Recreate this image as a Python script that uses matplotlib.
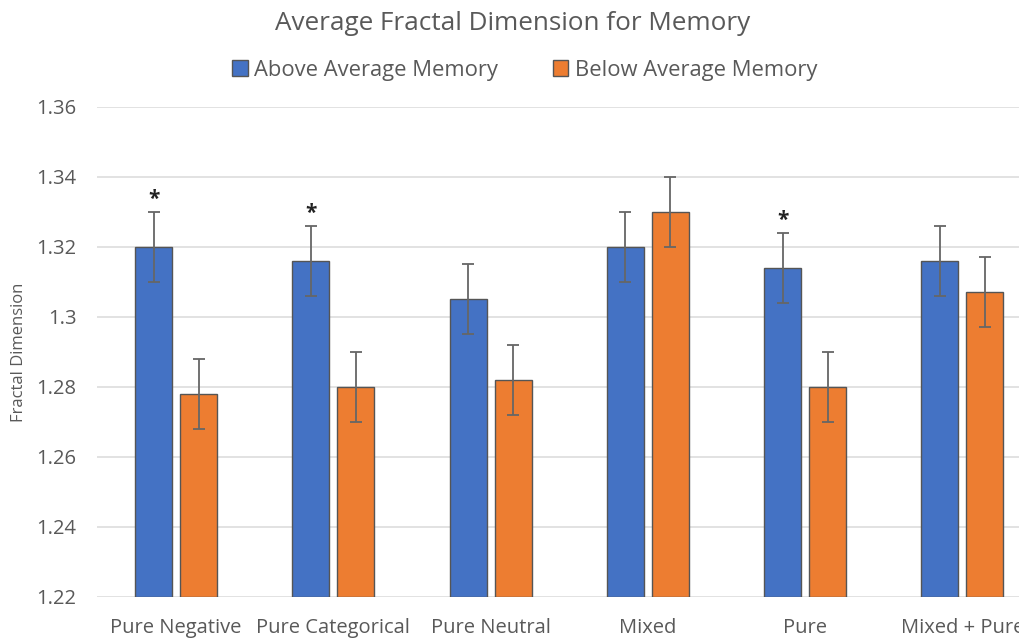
import matplotlib.pyplot as plt
import numpy as np
from matplotlib.patches import Patch

plt.rcParams['font.family'] = ['Open Sans', 'DejaVu Sans']

categories = ["Pure Negative", "Pure Categorical", "Pure Neutral", "Mixed", "Pure", "Mixed + Pure"]
above = [1.320, 1.316, 1.305, 1.320, 1.314, 1.316]
below = [1.278, 1.280, 1.282, 1.330, 1.280, 1.307]
above_err = [0.010, 0.010, 0.010, 0.010, 0.010, 0.010]
below_err = [0.010, 0.010, 0.010, 0.010, 0.010, 0.010]
significant = [True, True, False, False, True, False]
yticks = [1.22, 1.24, 1.26, 1.28, 1.30, 1.32, 1.34, 1.36]
ytick_labels = ["1.22", "1.24", "1.26", "1.28", "1.3", "1.32", "1.34", "1.36"]

BLUE = "#4472C4"
ORANGE = "#ED7D31"
TEXT = "#595959"

fig = plt.figure(figsize=(10.19, 6.38), dpi=100)
ax = fig.add_axes([0.0956, 0.0643, 0.926, 0.768])

x = np.arange(len(categories))
w = 0.235
off = 0.143
err_kw = dict(ecolor="#666666", elinewidth=1.3, capsize=4, capthick=1.3)

ax.bar(x - off, np.array(above) - 1.22, w, bottom=1.22, color=BLUE,
       edgecolor="#555555", linewidth=1, yerr=above_err, error_kw=err_kw, zorder=3)
ax.bar(x + off, np.array(below) - 1.22, w, bottom=1.22, color=ORANGE,
       edgecolor="#555555", linewidth=1, yerr=below_err, error_kw=err_kw, zorder=3)

for i, sig in enumerate(significant):
    if sig:
        ax.text(x[i] - off, above[i] + above_err[i] + 0.0035, "*", ha="center",
                va="center", fontsize=15, fontweight="bold", color="#222222")

ax.set_xlim(-0.5, len(categories) - 0.5)
ax.set_ylim(1.22, 1.36)
ax.set_yticks(yticks)
ax.set_yticklabels(ytick_labels)
ax.set_xticks(x)
ax.set_xticklabels(categories)
ax.tick_params(axis="both", length=0, labelsize=14.5, colors=TEXT)
ax.tick_params(axis="y", pad=15)
ax.tick_params(axis="x", pad=15)
ax.grid(axis="y", color="#dddddd", linewidth=1.2, zorder=0)
for s in ax.spines.values():
    s.set_visible(False)
ax.set_ylabel("Fractal Dimension", fontsize=12, color=TEXT)
ax.yaxis.set_label_coords(-0.075, 0.5)

fig.text(0.503, 0.963, "Average Fractal Dimension for Memory", ha="center",
         va="center", fontsize=18.8, color=TEXT)

handles = [Patch(facecolor=BLUE, edgecolor="#555555", label="Above Average Memory"),
           Patch(facecolor=ORANGE, edgecolor="#555555", label="Below Average Memory")]
fig.legend(handles=handles, loc="center", bbox_to_anchor=(0.515, 0.89), ncol=2,
           frameon=False, fontsize=15.8, labelcolor=TEXT, handlelength=0.7,
           handleheight=0.7, handletextpad=0.3, columnspacing=2.5)

fig.savefig("out.png", dpi=100)
